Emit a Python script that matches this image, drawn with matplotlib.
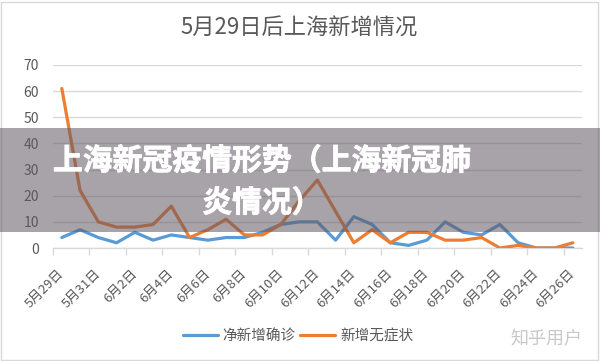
import matplotlib
matplotlib.use("Agg")
import matplotlib.pyplot as plt
import matplotlib.patheffects as pe
from matplotlib.patches import Rectangle

plt.rcParams['font.family'] = ['Noto Sans CJK SC', 'DejaVu Sans']

title = "5月29日后上海新增情况"
dates = ["5月29日", "5月30日", "5月31日", "6月1日", "6月2日", "6月3日", "6月4日", "6月5日",
         "6月6日", "6月7日", "6月8日", "6月9日", "6月10日", "6月11日", "6月12日", "6月13日",
         "6月14日", "6月15日", "6月16日", "6月17日", "6月18日", "6月19日", "6月20日", "6月21日",
         "6月22日", "6月23日", "6月24日", "6月25日", "6月26日"]
confirmed = [4, 7, 4, 2, 6, 3, 5, 4, 3, 4, 4, 6, 9, 10, 10, 3, 12, 9, 2, 1, 3, 10, 6, 5, 9, 2, 0, 0, 0]
asymptomatic = [61, 22, 10, 8, 8, 9, 16, 4, 7, 11, 5, 5, 9, 18, 26, 14, 2, 7, 2, 6, 6, 3, 3, 4, 0, 1, 0, 0, 2]
series_names = ["净新增确诊", "新增无症状"]
yticks = [0, 10, 20, 30, 40, 50, 60, 70]
overlay_lines = ["上海新冠疫情形势（上海新冠肺", "炎情况）"]
watermark = "知乎用户"

W, H = 600, 361
fig = plt.figure(figsize=(W / 100, H / 100), dpi=100)
fig.patch.set_facecolor('white')

left, right, top, bottom = 52.7, 582, 65, 248
ax = fig.add_axes([left / W, 1 - bottom / H, (right - left) / W, (bottom - top) / H])

x = list(range(len(dates)))
blue = '#5b9bd5'
orange = '#ed7d31'
l1, = ax.plot(x, confirmed, color=blue, lw=2.3, solid_joinstyle='round', solid_capstyle='round', zorder=3)
l2, = ax.plot(x, asymptomatic, color=orange, lw=2.3, solid_joinstyle='round', solid_capstyle='round', zorder=3)

ax.set_xlim(-0.5, len(dates) - 0.5)
ax.set_ylim(0, 70)
ax.set_yticks(yticks)
ax.yaxis.grid(True, color='#d9d9d9', lw=1)
ax.set_axisbelow(True)
for s in ['left', 'right', 'top']:
    ax.spines[s].set_visible(False)
ax.spines['bottom'].set_color('#d9d9d9')
ax.spines['bottom'].set_linewidth(1)
ax.tick_params(axis='y', length=0, pad=10, labelsize=10, labelcolor='#595959')

major = [i - 0.5 for i in range(0, len(dates), 2)]
ax.set_xticks(major)
ax.set_xticklabels([''] * len(major))
ax.tick_params(axis='x', which='major', length=5, color='#d9d9d9', width=1)
minor = list(range(0, len(dates), 2))
ax.set_xticks(minor, minor=True)
ax.set_xticklabels([dates[i] for i in minor], minor=True, rotation=45, ha='right',
                   va='center', rotation_mode='anchor')
ax.tick_params(axis='x', which='minor', length=0, pad=17, labelsize=9.5, labelcolor='#595959')

fig.text(299 / W, 1 - 28 / H, title, ha='center', va='center', fontsize=16, color='#595959')

# legend
fig.legend([l1, l2], series_names, loc='center', bbox_to_anchor=(298 / W, 1 - 336 / H), ncol=2,
           frameon=False, fontsize=10.5, handlelength=2.4, columnspacing=0.3, handletextpad=0.35,
           labelcolor='#595959')

# chart border
fig.patches.append(Rectangle((1 / W, 1 / H), (W - 3) / W, (H - 3) / H, transform=fig.transFigure,
                             fill=False, edgecolor='#d9d9d9', lw=1))

# overlay band
fig.patches.append(Rectangle((0, 1 - 232 / H), 1, (232 - 128) / H, transform=fig.transFigure,
                             facecolor=(0.38, 0.34, 0.39), alpha=0.55, edgecolor='none', zorder=10))
thick = [pe.withStroke(linewidth=0.6, foreground='white')]
fig.text(262 / W, 1 - 161 / H, overlay_lines[0], ha='center', va='center', fontsize=21.5,
         fontweight='heavy', color='white', zorder=11, path_effects=thick)
fig.text(262 / W, 1 - 203 / H, overlay_lines[1], ha='center', va='center', fontsize=21.5,
         fontweight='heavy', color='white', zorder=11, path_effects=thick)

fig.text(546 / W, 1 - 339 / H, watermark, ha='center', va='center', fontsize=13, color='#c8c8c8')

fig.savefig('out.png', dpi=100)
